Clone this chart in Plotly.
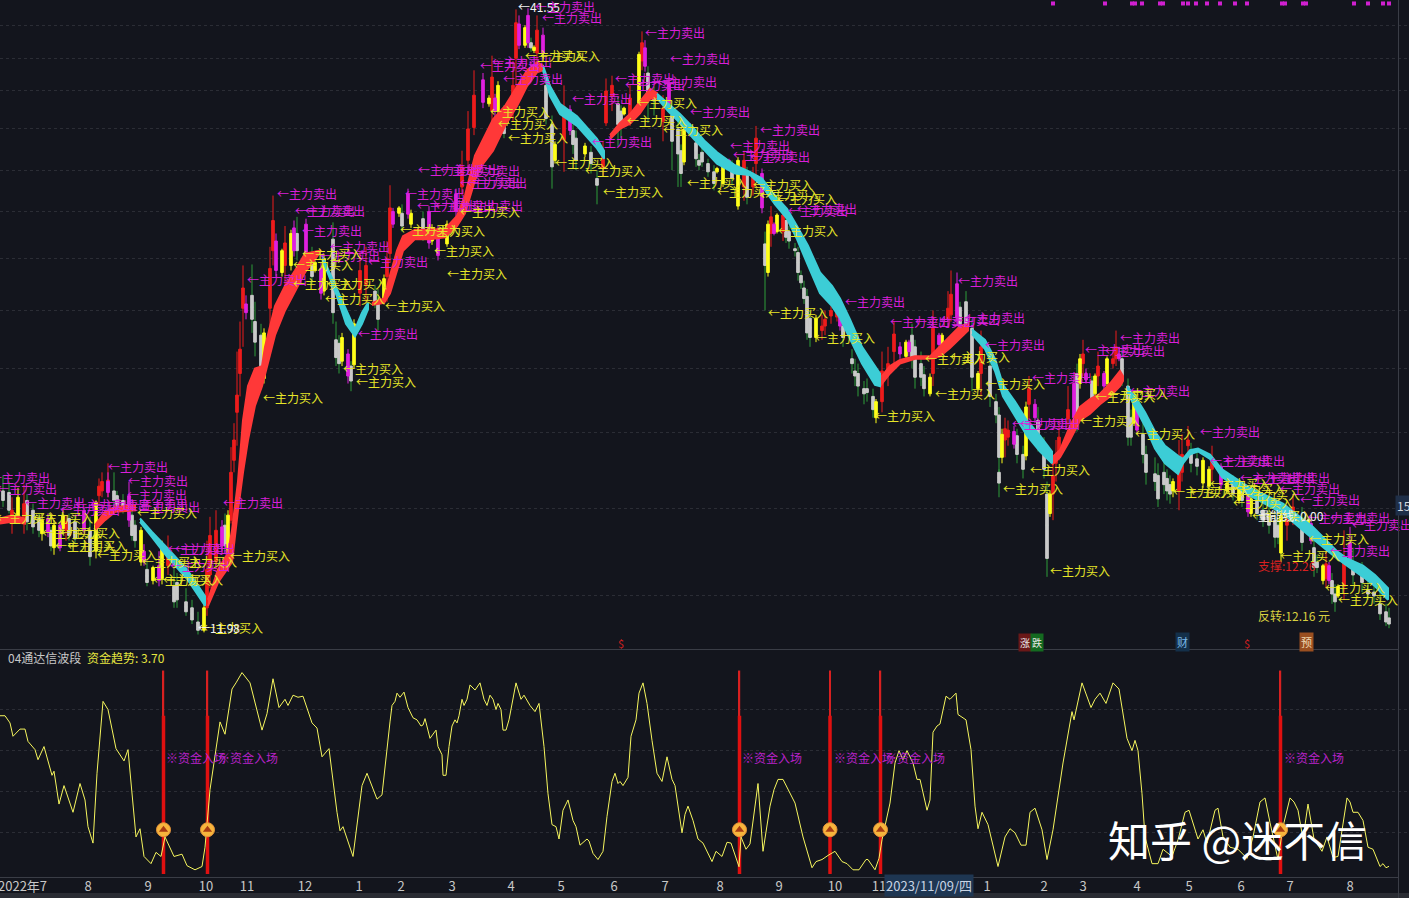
import plotly.graph_objects as go

W, H = 1409, 898
BG = "#13151d"
FONT = "Noto Sans CJK SC"

# ---------- candles, by colour: session position, body top/bottom, high, low ----------
red_x = [12,24,66,99,102,108,168,207,210,216,231,234,237,240,243,270,273,285,360,366,387,390,462,468,474,492,513,516,537,564,
         603,606,612,630,642,663,744,753,756,771,783,822,825,831,837,882,888,894,933,948,951,981,1005,1008,1029,1053,1056,1059,1068,1083,
         1098,1113,1116,1179,1182,1188,1212,1287,1293,1326,1344]
red_top = [15.1,15.3,14.75,15.85,16.0,16.05,14.0,13.4,14.35,14.5,16.3,17.4,19.05,20.9,23.65,24.6,27.1,25.9,24.5,24.75,25.1,27.8,30.2,32.6,34.9,36.2,35.6,40.4,39.8,34.1,
           31.2,35.2,35.6,34.7,38.8,34.0,30.6,29.7,32.0,27.3,27.4,21.9,22.2,22.6,22.6,20.0,20.3,21.55,21.8,22.7,23.35,21.0,17.8,17.75,19.3,16.2,16.9,17.5,18.5,20.7,
           20.2,20.5,21.0,16.3,16.9,17.4,16.8,14.9,15.2,13.55,13.7]
red_bot = [14.8,14.9,14.5,15.55,15.7,15.7,13.5,12.4,13.25,13.6,14.8,16.7,18.4,19.9,22.7,22.7,25.5,24.75,23.4,23.8,24.2,25.35,29.0,30.6,32.7,33.8,34.0,37.6,38.0,31.9,
           30.1,33.0,34.8,33.3,37.4,33.1,29.0,29.0,30.4,26.4,26.5,21.7,21.9,22.35,22.3,18.8,19.9,20.8,19.9,22.2,22.4,19.9,17.4,17.5,18.7,15.6,16.6,16.9,18.15,20.3,
           19.8,20.3,20.5,15.7,16.3,17.2,16.4,14.65,15.0,13.15,12.95]
red_high = [15.5,15.9,14.95,16.1,16.3,16.6,14.35,14.2,14.9,15.1,17.15,18.0,20.8,22.1,24.75,25.7,28.5,26.8,25.5,25.7,26.0,29.1,31.2,33.8,36.7,37.8,37.4,41.5,41.0,35.6,
            31.8,36.1,36.3,35.6,39.7,34.9,31.2,30.2,32.8,27.9,27.9,22.4,22.6,22.8,23.0,20.8,21.0,22.1,22.6,23.5,24.5,21.7,18.2,18.1,19.8,16.85,17.4,18.1,19.4,21.3,
            20.8,21.0,21.7,17.4,17.6,17.9,17.2,15.25,15.6,13.9,14.5]
red_low = [14.4,14.4,14.2,15.25,15.5,15.5,13.25,12.2,12.9,13.4,14.7,16.3,17.2,19.0,21.0,21.3,24.75,23.8,22.8,23.0,23.0,24.9,28.5,29.9,32.2,32.8,33.1,35.2,37.4,29.9,
           29.6,32.8,33.8,32.8,36.7,31.8,28.2,28.5,29.6,25.7,26.0,21.3,21.5,22.0,22.1,18.4,19.4,20.2,19.4,21.9,22.1,19.0,16.8,17.2,18.1,14.8,16.0,16.7,17.9,19.8,
           19.4,20.1,20.2,15.1,16.0,16.9,16.0,14.2,14.65,12.9,12.6]

yellow_x = [18,42,54,63,96,141,153,162,204,228,264,282,291,315,324,342,354,384,399,411,432,447,489,498,507,525,534,555,585,624,
            639,684,717,723,738,768,777,816,876,906,930,942,978,1002,1026,1050,1080,1095,1107,1134,1173,1203,1209,1227,1239,1251,1281,1308,1323,1338]
yellow_top = [15.5,14.8,14.65,14.95,15.35,14.5,13.45,14.0,12.4,14.95,21.6,25.5,26.4,24.9,25.1,21.4,22.0,24.1,27.8,27.5,26.7,26.9,34.7,35.6,33.8,40.0,38.45,31.6,31.5,34.0,
              37.9,32.6,30.1,30.6,30.6,26.9,27.4,22.25,18.8,21.2,19.75,21.5,19.9,17.6,18.6,15.6,20.5,19.8,20.5,19.1,16.0,16.7,16.4,15.95,15.8,15.45,14.95,14.8,13.5,12.95]
yellow_bot = [14.95,14.4,14.0,14.55,13.9,13.6,13.1,13.15,11.85,13.6,19.7,24.4,24.75,24.5,23.5,20.4,20.25,23.0,27.5,26.9,26.0,25.85,34.3,33.8,33.0,38.6,38.2,30.6,31.0,33.6,
              34.0,30.5,29.9,29.2,27.9,24.4,26.5,21.4,18.2,20.6,19.1,21.0,19.3,16.8,16.85,15.0,19.5,19.1,19.5,18.0,15.7,15.95,15.85,15.7,15.4,15.0,13.85,14.6,13.1,12.7]
yellow_high = [15.8,15.0,14.8,15.1,15.4,14.6,13.5,14.2,12.5,15.1,21.8,25.6,26.6,25.0,25.3,21.6,22.2,24.3,27.9,27.7,26.9,27.1,34.9,35.9,34.0,40.2,38.6,31.8,31.7,34.1,
               38.1,32.8,30.2,30.8,30.8,27.1,27.5,22.4,18.9,21.3,19.9,21.6,20.0,17.8,18.8,15.7,20.7,19.9,20.6,19.2,16.1,16.8,16.5,16.05,15.9,15.5,15.0,14.85,13.55,13.0]
yellow_low = [14.8,14.2,13.8,14.4,13.7,13.5,13.0,13.0,11.8,13.5,19.5,24.2,24.5,24.4,23.3,20.2,20.1,22.9,27.3,26.7,25.8,25.7,34.1,33.6,32.8,38.4,38.0,30.4,30.8,33.5,
              33.8,30.3,29.8,29.0,27.7,24.2,26.4,21.2,18.0,20.4,19.0,20.9,19.2,16.6,16.7,14.9,19.3,19.0,19.4,17.9,15.5,15.8,15.7,15.6,15.3,14.9,13.6,14.5,13.0,12.65]

magenta_x = [48,60,84,108,129,144,159,222,246,276,294,306,321,348,393,408,429,438,456,483,495,519,528,543,570,645,669,690,729,762,
             774,840,900,909,939,957,1014,1035,1074,1086,1104,1119,1137,1221,1248,1311,1329,1350]
magenta_top = [14.85,14.65,15.1,16.0,15.55,13.9,13.5,14.6,22.9,26.0,26.7,26.9,24.6,20.7,27.6,28.6,27.6,26.5,28.6,36.0,34.7,40.3,41.0,39.4,33.9,38.4,35.7,32.8,30.6,29.8,
               26.9,22.3,21.0,21.2,21.5,23.85,17.7,18.7,19.5,19.9,19.9,20.7,18.5,16.5,15.55,14.7,13.5,14.15]
magenta_bot = [14.45,14.0,14.5,15.65,14.8,13.6,13.1,14.05,22.5,24.5,25.5,25.35,23.4,19.8,26.9,27.45,25.9,25.25,27.6,34.4,33.8,38.6,38.8,38.0,32.5,37.0,34.3,32.3,30.3,27.8,
               26.4,21.9,20.7,20.8,21.1,22.25,17.25,18.2,18.2,19.65,19.4,20.5,17.75,15.9,15.05,14.2,13.1,13.6]
magenta_high = [15.0,14.75,15.2,16.3,16.0,14.1,13.9,14.8,23.3,26.4,27.1,27.2,24.9,20.9,27.8,28.9,27.9,26.8,28.9,36.5,35.0,41.0,41.6,40.0,34.2,39.0,36.2,33.0,30.7,30.1,
                27.0,22.5,21.2,21.3,21.6,24.4,17.9,18.9,19.8,20.1,20.0,21.0,18.7,16.6,15.7,14.8,13.6,14.6]
magenta_low = [14.3,13.9,14.4,15.5,14.6,13.5,12.95,13.9,22.2,24.2,25.2,25.0,23.1,19.5,26.7,27.2,25.6,25.0,27.3,34.0,33.4,38.3,38.4,37.6,32.2,36.6,33.9,32.1,30.1,27.5,
               26.3,21.7,20.5,20.6,21.0,22.0,17.1,18.0,17.9,19.5,19.2,20.4,17.6,15.7,14.9,14.1,13.0,13.5]

gray_x = [3,9,27,33,39,51,69,75,90,114,117,123,132,135,147,174,177,186,192,198,225,252,255,261,297,312,333,336,339,351,
          375,378,402,423,504,531,546,552,573,576,591,597,618,621,648,654,672,678,681,696,699,702,708,714,732,747,765,786,789,795,
          798,801,804,807,810,843,852,855,858,864,867,873,912,915,921,924,960,966,972,990,996,999,999,1017,1023,1038,1044,1047,1077,1092,
          1122,1128,1131,1143,1146,1155,1158,1164,1167,1170,1191,1197,1233,1242,1257,1263,1269,1275,1278,1302,1314,1317,1332,1335,1353,1362,1368,1374,1380,1386,1389]
gray_top = [15.7,15.65,15.4,15.1,14.85,14.5,14.85,14.75,14.5,15.7,15.55,15.4,14.95,14.65,13.4,12.95,13.05,12.55,12.4,12.05,14.65,23.3,22.1,21.5,26.4,25.0,26.1,21.3,21.15,20.2,
            23.5,23.0,27.5,27.2,33.8,38.8,35.6,32.9,32.5,32.0,31.1,29.5,34.3,33.8,36.5,34.9,33.5,32.6,31.2,31.7,30.6,31.1,30.4,29.9,30.4,29.9,25.85,27.1,26.5,25.6,
            25.4,24.25,23.65,23.25,22.25,21.9,20.5,20.0,19.9,19.3,19.3,19.0,21.5,21.0,20.3,19.85,22.75,23.0,21.8,20.2,18.8,18.3,16.3,17.55,16.9,18.1,17.1,15.6,19.9,19.6,
            20.5,19.4,18.2,17.6,16.9,16.25,16.2,16.3,16.1,15.9,17.0,16.75,16.0,15.7,15.4,15.1,15.0,14.8,14.65,14.7,14.0,13.6,13.1,12.75,13.55,13.3,12.85,12.8,12.5,12.3,12.15]
gray_bot = [15.4,15.1,14.75,14.6,14.5,14.05,14.35,14.25,13.75,15.4,15.25,15.1,14.35,14.2,13.05,12.55,12.6,12.3,12.1,11.85,14.05,22.2,21.2,19.9,25.5,24.2,22.5,20.55,20.3,19.6,
            23.0,22.2,26.8,26.5,32.3,38.4,33.3,30.2,31.6,30.6,30.4,29.1,32.9,32.9,34.5,34.5,31.8,31.0,29.8,30.7,30.3,30.5,29.9,29.2,29.5,28.4,24.75,26.2,26.0,25.5,
            24.4,23.9,23.15,21.6,21.4,21.4,20.3,19.8,19.4,19.1,19.15,18.5,20.55,19.75,19.75,19.3,22.0,22.0,19.75,19.0,18.3,16.8,15.95,16.9,16.4,17.4,16.4,13.7,18.0,18.9,
            19.7,17.5,17.5,16.9,16.3,16.0,15.45,15.9,15.7,15.6,16.6,16.5,15.6,15.4,15.0,14.8,14.65,14.3,14.3,14.15,13.45,13.45,12.75,12.55,13.25,13.05,12.75,12.7,12.25,12.05,12.0]
gray_high = [16.2,16.0,15.6,15.3,15.0,14.6,15.0,14.9,14.9,16.3,15.7,15.6,15.3,14.8,13.6,13.5,13.3,12.9,12.6,12.3,15.0,24.8,23.0,22.0,27.3,25.7,27.0,22.1,21.5,20.4,
             23.8,23.6,28.0,27.6,34.2,39.2,36.0,33.5,32.9,32.5,31.5,30.0,34.8,34.2,37.0,35.5,34.5,33.2,31.6,32.5,31.0,31.5,30.7,30.3,30.6,30.2,26.5,27.5,26.8,25.9,
             25.7,24.5,24.0,23.6,22.6,22.2,20.9,20.5,20.3,19.6,19.7,19.3,22.0,21.3,20.8,20.2,23.0,23.5,22.2,20.6,19.1,18.6,16.4,17.8,17.2,18.6,17.5,16.0,20.3,19.8,
             20.9,19.7,18.5,18.0,17.2,16.8,16.6,16.7,16.4,16.2,17.3,17.0,16.2,15.9,15.6,15.3,15.2,15.2,15.0,15.2,14.5,13.8,13.3,13.0,14.0,13.6,13.2,13.1,12.8,12.5,12.4]
gray_low = [15.2,15.0,14.5,14.4,14.3,13.9,14.2,14.1,13.5,15.2,15.1,15.0,14.2,14.0,12.95,12.4,12.4,12.2,12.0,11.75,13.9,21.6,20.6,19.5,25.0,23.8,22.0,20.2,19.9,19.2,
            22.7,21.7,26.5,26.0,32.0,38.1,32.9,28.9,31.0,30.0,29.8,28.0,31.5,32.0,33.0,33.5,30.0,29.0,29.0,30.2,30.0,30.2,29.6,28.8,29.1,28.0,22.6,25.9,25.6,25.2,
            24.0,23.6,22.9,21.3,21.0,21.0,19.9,19.4,19.0,18.7,18.8,18.2,20.1,19.3,19.4,19.0,21.7,21.7,19.2,18.6,18.0,16.2,15.5,16.6,16.1,17.0,16.1,13.2,17.7,18.6,
            19.4,17.2,17.2,16.6,15.9,15.7,15.2,15.6,15.4,15.3,16.3,16.2,15.4,15.2,14.8,14.6,14.4,14.0,14.1,13.9,13.2,13.3,12.5,12.3,13.0,12.8,12.6,12.5,12.1,11.95,11.9]

# ---------- moving-average ribbon (None separates stretches) ----------
rib_red_x = [0,12,25,None,95,105,115,135,None,208,218,228,232,238,243,248,255,262,265,275,285,295,305,320,None,
             372,384,390,397,403,415,430,445,457,465,475,482,493,505,517,527,537,543,None,
             610,620,630,640,650,657,None,880,890,900,915,930,940,950,960,968,None,
             1052,1060,1070,1080,1090,1100,1110,1120,1123]
rib_red_top = [14.85,14.95,14.85,None,14.65,15.05,15.2,15.25,None,12.6,13.4,13.85,14.5,16.0,18.1,19.4,20.1,20.2,21.0,22.8,23.75,24.5,25.35,25.5,None,
               22.95,23.15,24.25,25.5,26.25,26.6,26.6,26.65,27.35,28.5,30.9,31.8,33.25,34.15,35.55,36.7,37.3,37.05,None,
               32.2,33.0,33.6,34.5,35.35,35.05,None,19.7,20.2,20.45,20.6,20.6,21.0,21.45,21.9,22.0,None,
               16.8,17.05,17.9,18.6,18.9,19.1,19.5,20.0,19.8]
rib_red_bot = [14.7,14.75,14.7,None,14.5,14.8,15.05,15.1,None,12.45,13.05,13.45,13.6,15.1,16.3,17.4,18.65,19.4,19.8,21.5,22.6,23.5,24.4,25.4,None,
               22.85,22.95,23.4,24.5,25.5,26.1,26.1,26.2,26.8,27.5,29.4,30.3,31.2,32.8,34.15,35.55,36.55,36.7,None,
               31.95,32.6,32.95,33.65,34.65,34.7,None,19.4,19.9,20.3,20.5,20.5,20.6,20.95,21.35,21.7,None,
               16.55,16.8,17.4,18.1,18.35,18.7,19.0,19.4,19.6]
rib_cyan_x = [140,152,167,187,205,None,322,337,346,355,362,368,None,543,550,560,577,597,604,None,
              657,668,680,693,705,717,735,750,762,775,787,797,808,820,832,840,850,862,875,880,None,
              972,985,995,1003,1015,1027,1040,1052,None,1127,1135,1145,1155,1165,1178,1183,1190,1198,1210,1222,1250,1283,1313,1337,1347,1363,1375,1388]
rib_cyan_top = [14.85,14.45,14.0,13.4,12.7,None,25.25,23.6,22.6,21.75,22.5,22.95,None,37.05,35.55,34.3,33.45,31.95,31.2,None,
                35.0,34.3,33.6,32.7,31.8,31.1,30.3,29.9,29.5,28.5,27.75,26.8,25.75,24.4,23.75,23.15,22.2,21.0,20.2,19.9,None,
                21.75,21.3,20.5,19.45,18.8,18.1,17.55,17.0,None,19.4,19.0,18.4,17.7,17.2,16.85,16.75,17.05,17.1,16.9,16.4,15.8,15.3,14.6,13.9,13.7,13.5,13.25,12.9]
rib_cyan_bot = [14.75,14.3,13.75,13.15,12.45,None,25.1,23.25,22.0,21.45,22.0,22.65,None,36.7,34.85,33.6,32.8,31.35,30.7,None,
                34.7,33.8,33.0,32.0,31.2,30.4,29.8,29.7,29.05,28.0,27.2,26.1,24.75,23.4,22.8,22.25,21.35,20.3,19.45,19.4,None,
                21.55,20.9,20.0,19.0,18.25,17.55,17.0,16.6,None,19.2,18.6,17.9,17.1,16.6,16.25,16.6,16.9,17.0,16.75,16.15,15.55,15.0,14.25,13.7,13.5,13.2,12.95,12.6]

# ---------- signal labels on the price panel ----------
sell_x = [-10,-3,25,60,75,90,108,128,127,128,140,168,170,175,223,247,277,295,305,302,330,320,368,358,405,417,418,440,435,460,463,460,467,480,492,503,535,542,572,592,615,625,645,670,657,690,730,760,733,750,788,797,845,890,915,958,940,965,985,1032,1012,1020,1120,1085,1105,1130,1200,1210,1225,1240,1255,1270,1280,1300,1330,1307,1352,1330]
sell_y = [16.05,15.7,15.25,15.05,15.2,15.2,16.4,15.95,15.5,15.2,15.15,13.9,13.45,13.9,15.25,23.95,28.5,27.5,27.5,26.4,25.6,25.1,24.8,21.45,28.5,27.8,29.9,29.9,27.8,29.1,27.8,29.8,29.1,36.9,37.2,35.9,41.55,40.6,34.5,31.6,35.9,35.5,39.4,37.4,35.7,33.6,31.4,32.4,30.8,30.7,27.5,27.6,22.9,22.0,22.0,23.9,22.1,22.15,21.0,19.65,17.9,17.9,21.3,20.8,20.75,19.15,17.6,16.6,16.6,16.05,16.05,16.05,15.7,15.35,14.8,14.8,14.6,13.85]
buy_x = [-3,33,137,42,60,55,67,97,142,177,153,163,230,203,263,293,293,327,325,302,385,343,356,400,425,460,434,447,490,498,508,525,540,555,585,603,627,637,663,687,717,760,753,777,778,768,815,875,935,925,950,985,1030,1003,1050,1080,1095,1108,1135,1173,1190,1210,1225,1240,1233,1252,1280,1309,1325,1338]
buy_y = [14.8,14.8,14.95,14.35,14.35,14.0,14.0,13.75,13.55,13.55,13.05,13.05,13.7,11.85,18.85,24.65,23.75,23.75,23.05,25.25,22.7,20.0,19.5,26.5,26.4,27.45,25.4,24.25,33.6,32.8,31.9,37.6,37.6,30.3,29.8,28.6,33.0,34.2,32.4,29.1,28.6,28.4,29.0,28.2,26.4,22.4,21.3,18.2,19.0,20.4,20.5,19.4,16.3,15.7,13.3,18.0,18.9,19.0,17.55,15.6,15.6,15.85,15.7,15.5,15.25,14.85,13.7,14.2,12.85,12.55]
sell_label = "←主力卖出"
buy_label = "←主力买入"
extreme_x = [518, 198, 1258]
extreme_y = [41.5, 11.85, 14.85]
extreme_text = ["←41.55", "←11.98", "量能线: 0.00"]
level_x = [1258, 1258]
level_y = [13.45, 12.15]
level_text = ["支撑:12.26", "反转:12.16 元"]
level_color = ["#d82020", "#d8d040"]
top_mark_x = [1053,1105,1132,1135,1142,1160,1163,1183,1188,1196,1207,1220,1235,1247,1282,1285,1303,1306,1354,1368,1383,1389]
top_mark_y = [42.0] * len(top_mark_x)
grid_prices = [12.7,15.15,17.65,20.1,22.6,25.1,27.6,30.0,32.6,35.2,37.6,40.2]

# ---------- money-flow oscillator ----------
osc_x = [0,5,10,13,20,25,28,35,38,44,52,54,59,64,73,80,85,88,93,97,103,108,116,124,128,136,140,144,151,156,161,165,174,182,187,195,202,205,210,213,220,225,232,236,242,250,262,267,273,279,285,288,293,298,303,312,317,322,329,337,340,343,353,362,367,377,382,
         390,392,395,397,400,404,408,413,417,421,423,425,430,436,438,442,443,446,449,452,455,457,459,462,464,467,470,475,480,484,487,490,493,496,498,501,503,506,509,516,521,524,530,535,539,544,548,552,556,559,563,568,573,576,580,587,589,593,598,603,607,612,615,618,620,623,628,631,636,639,643,647,652,657,662,667,672,675,682,685,688,693,698,703,
         712,716,722,727,731,735,739,741,746,750,758,763,770,774,778,783,795,803,812,816,822,828,835,842,847,853,859,866,868,875,879,882,890,895,899,903,907,913,917,920,927,930,933,937,940,946,950,956,958,966,971,975,978,982,988,998,1005,1010,1015,1021,1026,1030,1035,1042,1047,1053,1063,1072,1074,1082,1091,1095,1100,1106,1113,1119,1123,1127,1132,1135,1138,1142,1145,1152,1158,1163,1172,1178,1185,1189,1198,1203,1207,1215,1218,1223,1230,1238,1247,1253,1260,1265,1270,1278,1283,1290,1294,1298,1303,1308,1314,1322,1327,1333,1338,1347,1350,1353,1358,1363,1368,1373,1380,1383,1386,1389]
osc_y = [77,77,73.5,67,70.5,70.5,64.5,60.5,55.6,62,48,50,34,43,30,44,36,23,15,49,84,80,61,55,60.5,18,22,8.5,5,10.5,8.5,18,8.5,9.6,4,2,3.6,13,41,51,74,68,90,93,98,93,70,78,95,81,85,82,87,86,86.5,73.5,71,57,61,30,21,23,8.5,43,49,36.4,38.5,
         74,82,84,88,86,88.5,81,76,75,72,72.5,75.6,66,70,62,58,48,48,62,72,75,73.5,77,85,82,85,92,89.5,93,85,82,87,85,80,83,80,70,70,75,93,85,87,82,79,83,62,39,24,23,17,31,36,26,23,14,17,16,10,7,11,28,45,49,44,45,43,47,67,75,88,93,83,65,49,45,57,46,43,20,29,33,26,17,15,
         6,11,8.5,15.4,15,9,3.5,18,12,14.6,44,11,33,41,46,46,34.5,18,3,6,7,9,11,6,5,2,2,7,7,2,7.6,16.6,34.5,54,60,55.6,60,54,46,46,31,36,69,72,73,86.5,85,88,77.6,75,60.5,33,22,30,24,3.6,18,22,20,14,14,30,32,21.5,7,21.5,54,79,75,93,81,85,88,83,93,90,78,66,60,65,60,39,18,5,5,12,8.5,16.6,30,31,17,21.5,15,31,32,18,13,12,7.6,18,35,37,25,7,23,37,35,31,17,34,17,11,18,8,8.5,37,35,30,30,26,13,12,3.6,5,3,3.7]
signal_x = [163.5, 207.5, 739.5, 830, 880.5, 1280.5]
signal_body = [77] * 6
signal_tip = [99] * 6
signal_icon = [21.5] * 6
signal_note_y = [55.6] * 6
signal_note_x = [166, 218, 742, 834, 885, 1284]
signal_label = "※资金入场"

month_pos = [88,148,206,247,305,359,401,452,511,561,614,665,720,779,835,879,987,1044,1083,1137,1189,1241,1290,1350]
month_text = ["8","9","10","11","12","1","2","3","4","5","6","7","8","9","10","11","1","2","3","4","5","6","7","8"]


def polygons(xs, tops, bots):
    out_x, out_y, run = [], [], []
    for item in list(zip(xs, tops, bots)) + [(None, None, None)]:
        if item[0] is None:
            out_x += [r[0] for r in run] + [r[0] for r in reversed(run)] + [None]
            out_y += [r[1] for r in run] + [r[2] for r in reversed(run)] + [None]
            run = []
        else:
            run.append(item)
    return out_x, out_y


def candle(x, op, hi, lo, cl, color, name):
    return go.Candlestick(
        x=x, open=op, high=hi, low=lo, close=cl, name=name, xaxis="x", yaxis="y",
        increasing=dict(line=dict(color=color, width=1), fillcolor=color),
        decreasing=dict(line=dict(color=color, width=1), fillcolor=color),
        hoverinfo="skip", showlegend=False)


fig = go.Figure()
gray_mid = [(a + b) / 2 for a, b in zip(gray_top, gray_bot)]
fig.add_trace(candle(gray_x, gray_mid, gray_high, gray_low, gray_mid, "#2f9e3a", "gray wick"))
fig.add_trace(candle(gray_x, gray_top, gray_top, gray_bot, gray_bot, "#c9c9c9", "gray"))
fig.add_trace(candle(red_x, red_bot, red_high, red_low, red_top, "#ee1c1c", "red"))
fig.add_trace(candle(yellow_x, yellow_bot, yellow_high, yellow_low, yellow_top, "#ffff1a", "yellow"))
fig.add_trace(candle(magenta_x, magenta_top, magenta_high, magenta_low, magenta_bot, "#e020e0", "magenta"))

for xs, tops, bots, color in [(rib_red_x, rib_red_top, rib_red_bot, "#ff3838"),
                              (rib_cyan_x, rib_cyan_top, rib_cyan_bot, "#3ccdd6")]:
    px_, py_ = polygons(xs, tops, bots)
    fig.add_trace(go.Scatter(x=px_, y=py_, mode="lines", fill="toself", fillcolor=color,
                             line=dict(color=color, width=2), xaxis="x", yaxis="y",
                             hoverinfo="skip", showlegend=False))


def text_trace(x, y, text, color, size=12, xaxis="x", yaxis="y"):
    return go.Scatter(x=x, y=y, mode="text", text=text, textposition="middle right",
                      textfont=dict(family=FONT, size=size, color=color),
                      xaxis=xaxis, yaxis=yaxis, hoverinfo="skip", showlegend=False)


fig.add_trace(text_trace(sell_x, sell_y, [sell_label] * len(sell_x), "#d81fd8"))
fig.add_trace(text_trace(buy_x, buy_y, [buy_label] * len(buy_x), "#e6e628"))
fig.add_trace(text_trace(extreme_x, extreme_y, extreme_text, "#f2f2f2"))
fig.add_trace(text_trace(level_x, level_y, level_text, level_color))
fig.add_trace(go.Scatter(x=top_mark_x, y=top_mark_y, mode="markers",
                         marker=dict(symbol="square", size=4, color="#d020d0"),
                         xaxis="x", yaxis="y", hoverinfo="skip", showlegend=False))

fig.add_trace(go.Scatter(x=osc_x, y=osc_y, mode="lines", line=dict(color="#f6f65e", width=1),
                         xaxis="x2", yaxis="y2", hoverinfo="skip", showlegend=False))
fig.add_trace(go.Bar(x=signal_x, y=signal_tip, width=1.4, marker=dict(color="#d82020", line=dict(width=0)),
                     xaxis="x2", yaxis="y2", hoverinfo="skip", showlegend=False))
fig.add_trace(go.Bar(x=signal_x, y=signal_body, width=3.5, marker=dict(color="#e01010", line=dict(width=0)),
                     xaxis="x2", yaxis="y2", hoverinfo="skip", showlegend=False))
fig.add_trace(go.Scatter(x=signal_x, y=signal_icon, mode="markers",
                         marker=dict(symbol="circle", size=14, color="#f7b53c", line=dict(color="#e8943a", width=1)),
                         xaxis="x2", yaxis="y2", hoverinfo="skip", showlegend=False))
fig.add_trace(go.Scatter(x=signal_x, y=signal_icon, mode="markers",
                         marker=dict(symbol="triangle-up", size=8, color="#a83a12", line=dict(width=0)),
                         xaxis="x2", yaxis="y2", hoverinfo="skip", showlegend=False))
fig.add_trace(text_trace(signal_note_x, signal_note_y, [signal_label] * 6, "#b822c8", xaxis="x2", yaxis="y2"))


def note(x, y, text, color, size=12, bg=None, xanchor="left"):
    fig.add_annotation(x=x / W, y=1 - y / H, xref="paper", yref="paper", text=text, showarrow=False,
                       xanchor=xanchor, yanchor="middle", bgcolor=bg, borderpad=1,
                       font=dict(family=FONT, size=size, color=color))


note(6, 657, "04通达信波段", "#c8c8c8")
note(85, 657, "资金趋势: 3.70", "#e6e640")
note(621, 643, "$", "#d02020", 11, xanchor="center")
note(1025, 642, "涨", "#e8e8e8", 10, "#6a1818", "center")
note(1037, 642, "跌", "#e8e8e8", 10, "#146a20", "center")
note(1182, 642, "财", "#7ab8e8", 11, "#14304a", "center")
note(1247, 643, "$", "#d02020", 11, xanchor="center")
note(1306, 642, "预", "#f0d8b0", 11, "#9a4f20", "center")
note(929, 885, "2023/11/09/四", "#c8d4e4", 13, "#1e3652", "center")
note(-4, 885, "2022年7", "#c8c8c8", 13)
note(1404, 505, "15", "#d0d8e0", 12, "#1f2f48", "center")
note(1237, 838, "知乎 @迷不信", "#ffffff", 42, xanchor="center")

lines = [(0, 649.5, 1398, 649.5), (0, 877.5, 1398, 877.5), (1398.5, 0, 1398.5, 898)]
shapes = [dict(type="rect", xref="paper", yref="paper", x0=0, x1=1, y0=0, y1=1 - 893 / H,
               fillcolor="#2a2c33", line=dict(width=0), layer="below")]
for x0, y0, x1, y1 in lines:
    shapes.append(dict(type="line", xref="paper", yref="paper", x0=x0 / W, x1=x1 / W,
                       y0=1 - y0 / H, y1=1 - y1 / H, line=dict(color="#3a3d46", width=1)))

grid = "#2b2d35"
fig.update_layout(
    width=W, height=H, margin=dict(l=0, r=0, t=0, b=0), autosize=False,
    paper_bgcolor=BG, plot_bgcolor="rgba(0,0,0,0)", showlegend=False, shapes=shapes,
    boxgap=0.12, boxgroupgap=0, barmode="overlay", hovermode=False,
    font=dict(family=FONT, color="#c8c8c8", size=12),
    xaxis=dict(domain=[0, 1], range=[0, W], anchor="y", showticklabels=False, showgrid=False, zeroline=False,
               rangeslider=dict(visible=False), ticks=""),
    yaxis=dict(domain=[1 - 649 / H, 1], type="log", range=[1.0573, 1.6263], anchor="x", side="right",
               tickvals=grid_prices, showticklabels=False, showgrid=True, gridcolor=grid, griddash="dot",
               gridwidth=1, zeroline=False, ticks=""),
    xaxis2=dict(domain=[0, 1], range=[0, W], anchor="y2", tickmode="array", tickvals=month_pos, ticktext=month_text,
                showgrid=False, zeroline=False, ticks="", tickfont=dict(family=FONT, size=13, color="#c8c8c8")),
    yaxis2=dict(domain=[1 - 877 / H, 1 - 650 / H], range=[-1.5, 109], anchor="x2", side="right",
                tickvals=[20, 40, 60, 80], showticklabels=False, showgrid=True, gridcolor=grid, griddash="dot",
                zeroline=False, ticks=""),
)

fig.write_html("out.html", config={"displayModeBar": False},
               post_script="document.body.style.margin='0';document.documentElement.style.background='#13151d';")
